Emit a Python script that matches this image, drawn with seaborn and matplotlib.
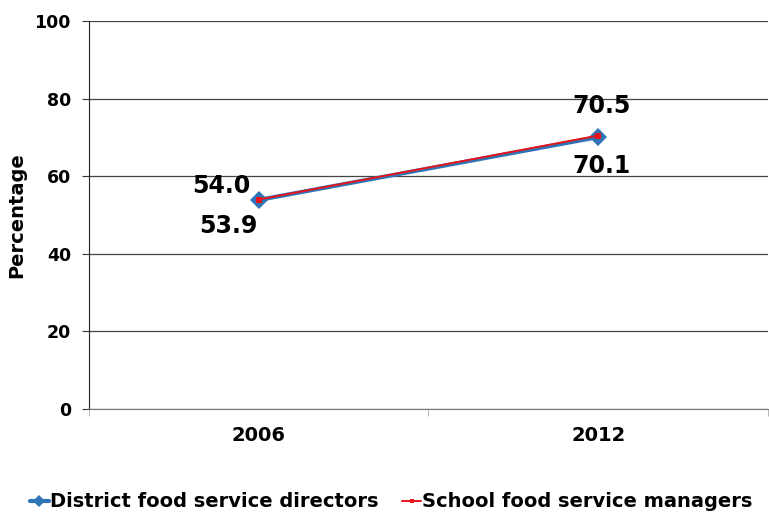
import matplotlib
matplotlib.use("Agg")
import matplotlib.pyplot as plt
import seaborn as sns
import pandas as pd

years = ["2006", "2012"]
directors = [53.9, 70.1]
managers = [54.0, 70.5]
series_names = ["District food service directors", "School food service managers"]

df = pd.DataFrame({
    "x": [0, 1, 0, 1],
    "value": directors + managers,
    "series": [series_names[0]] * 2 + [series_names[1]] * 2,
})

sns.set_style("white")
plt.rcParams['font.family'] = ['DejaVu Sans']
plt.rcParams['text.color'] = 'black'
plt.rcParams['xtick.color'] = 'black'
plt.rcParams['ytick.color'] = 'black'
plt.rcParams['axes.labelcolor'] = 'black'

fig = plt.figure(figsize=(7.69, 5.15), dpi=100)
ax = fig.add_axes([0.1157, 0.2058, 0.883, 0.7532])

palette = {series_names[0]: "#2e75b6", series_names[1]: "#e8141b"}
markers = {series_names[0]: "D", series_names[1]: "s"}
sizes = {series_names[0]: 9, series_names[1]: 5}
widths = {series_names[0]: 3, series_names[1]: 1.4}

for name in series_names:
    sub = df[df["series"] == name]
    sns.lineplot(data=sub, x="x", y="value", ax=ax, color=palette[name],
                 marker=markers[name], markersize=sizes[name], linewidth=widths[name],
                 markeredgewidth=0, label=name)

ax.set_xlim(-0.5, 1.5)
ax.set_ylim(0, 100)
ax.set_yticks([0, 20, 40, 60, 80, 100])
ax.set_xticks([0, 1])
ax.set_xticklabels(years)
ax.yaxis.grid(True, color="#444444", linewidth=0.9)
ax.set_axisbelow(True)
ax.set_xlabel("")
ax.set_ylabel("Percentage", fontsize=14, fontweight="bold", labelpad=6)

for lbl in ax.get_yticklabels():
    lbl.set_fontsize(12.5)
    lbl.set_fontweight("bold")
for lbl in ax.get_xticklabels():
    lbl.set_fontsize(14)
    lbl.set_fontweight("bold")
ax.tick_params(axis="x", pad=12, length=0)
ax.tick_params(axis="y", pad=8, length=5, left=True, color="#333333")

# minor x ticks at category boundaries
ax.set_xticks([-0.5, 0.5, 1.5], minor=True)
ax.tick_params(axis="x", which="minor", length=5, bottom=True, color="#aaaaaa")

for s in ["top", "right"]:
    ax.spines[s].set_visible(False)
ax.spines["left"].set_color("#222222")
ax.spines["bottom"].set_color("#777777")

# data labels
lab_kw = dict(fontsize=17, fontweight="bold", ha="center", va="center")
ax.text(-0.11, managers[0] + 3.5, f"{managers[0]:.1f}", **lab_kw)
ax.text(-0.09, directors[0] - 6.8, f"{directors[0]:.1f}", **lab_kw)
ax.text(1.01, managers[1] + 7.5, f"{managers[1]:.1f}", **lab_kw)
ax.text(1.01, directors[1] - 7.5, f"{directors[1]:.1f}", **lab_kw)

ax.legend(loc="upper center", bbox_to_anchor=(0.445, -0.17), ncol=2, frameon=False,
          prop={"size": 14, "weight": "bold"}, handlelength=1.0, handletextpad=0.05,
          columnspacing=1.2, markerscale=0.7)

fig.savefig("out.png", dpi=100)
